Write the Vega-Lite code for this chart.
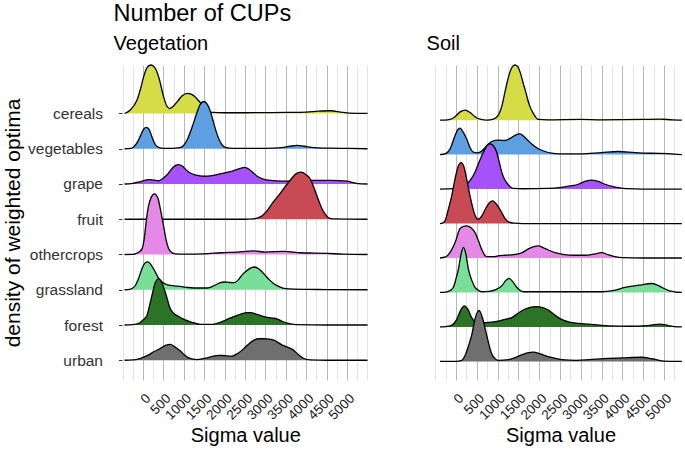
{
"$schema": "https://vega.github.io/schema/vega-lite/v6.json",
"background": "white",
"padding": {"left": 2, "top": 2, "right": 0, "bottom": 0},
"bounds": "flush",
"spacing": 66,
"title": {"text": "Number of CUPs", "anchor": "start", "frame": "group", "fontSize": 23.5, "fontWeight": "normal", "color": "#000", "dx": -8.4, "offset": 8},
"config": {"font": "Liberation Sans", "view": {"stroke": null}, "title": {"fontWeight": "normal", "color": "#000"}},
"datasets": {
"veg": [
{"c":"cereals","v":-452,"d":0},{"c":"cereals","v":-312,"d":0.1},{"c":"cereals","v":-147,"d":0.38},{"c":"cereals","v":-60,"d":0.7},{"c":"cereals","v":15,"d":1.04},{"c":"cereals","v":110,"d":1.32},{"c":"cereals","v":197,"d":1.375},{"c":"cereals","v":290,"d":1.3},{"c":"cereals","v":383,"d":1.04},{"c":"cereals","v":506,"d":0.47},{"c":"cereals","v":580,"d":0.22},{"c":"cereals","v":654,"d":0.14},{"c":"cereals","v":740,"d":0.2},{"c":"cereals","v":835,"d":0.33},{"c":"cereals","v":960,"d":0.5},{"c":"cereals","v":1081,"d":0.57},{"c":"cereals","v":1180,"d":0.55},{"c":"cereals","v":1260,"d":0.49},{"c":"cereals","v":1408,"d":0.3},{"c":"cereals","v":1550,"d":0.1},{"c":"cereals","v":1700,"d":0.03},{"c":"cereals","v":2000,"d":0.02},{"c":"cereals","v":2500,"d":0.02},{"c":"cereals","v":3000,"d":0.025},{"c":"cereals","v":3500,"d":0.03},{"c":"cereals","v":4000,"d":0.04},{"c":"cereals","v":4300,"d":0.065},{"c":"cereals","v":4600,"d":0.077},{"c":"cereals","v":4850,"d":0.04},{"c":"cereals","v":5050,"d":0.01},{"c":"cereals","v":5504,"d":0},
{"c":"vegetables","v":-452,"d":0},{"c":"vegetables","v":-300,"d":0.01},{"c":"vegetables","v":-231,"d":0.05},{"c":"vegetables","v":-130,"d":0.2},{"c":"vegetables","v":-50,"d":0.4},{"c":"vegetables","v":20,"d":0.56},{"c":"vegetables","v":81,"d":0.605},{"c":"vegetables","v":150,"d":0.55},{"c":"vegetables","v":220,"d":0.33},{"c":"vegetables","v":300,"d":0.12},{"c":"vegetables","v":383,"d":0.04},{"c":"vegetables","v":500,"d":0.01},{"c":"vegetables","v":700,"d":0.01},{"c":"vegetables","v":900,"d":0.03},{"c":"vegetables","v":1000,"d":0.1},{"c":"vegetables","v":1100,"d":0.3},{"c":"vegetables","v":1200,"d":0.6},{"c":"vegetables","v":1300,"d":0.95},{"c":"vegetables","v":1400,"d":1.25},{"c":"vegetables","v":1489,"d":1.34},{"c":"vegetables","v":1580,"d":1.25},{"c":"vegetables","v":1654,"d":1.05},{"c":"vegetables","v":1740,"d":0.7},{"c":"vegetables","v":1818,"d":0.4},{"c":"vegetables","v":1920,"d":0.14},{"c":"vegetables","v":2022,"d":0.04},{"c":"vegetables","v":2200,"d":0.01},{"c":"vegetables","v":3000,"d":0.01},{"c":"vegetables","v":3400,"d":0.03},{"c":"vegetables","v":3600,"d":0.07},{"c":"vegetables","v":3784,"d":0.094},{"c":"vegetables","v":3950,"d":0.07},{"c":"vegetables","v":4200,"d":0.03},{"c":"vegetables","v":4600,"d":0.015},{"c":"vegetables","v":5000,"d":0.01},{"c":"vegetables","v":5504,"d":0},
{"c":"grape","v":-452,"d":0},{"c":"grape","v":-250,"d":0.02},{"c":"grape","v":-50,"d":0.07},{"c":"grape","v":138,"d":0.125},{"c":"grape","v":260,"d":0.11},{"c":"grape","v":383,"d":0.09},{"c":"grape","v":480,"d":0.15},{"c":"grape","v":590,"d":0.26},{"c":"grape","v":700,"d":0.42},{"c":"grape","v":800,"d":0.53},{"c":"grape","v":875,"d":0.55},{"c":"grape","v":960,"d":0.51},{"c":"grape","v":1060,"d":0.4},{"c":"grape","v":1162,"d":0.31},{"c":"grape","v":1300,"d":0.25},{"c":"grape","v":1489,"d":0.22},{"c":"grape","v":1700,"d":0.24},{"c":"grape","v":1980,"d":0.31},{"c":"grape","v":2226,"d":0.38},{"c":"grape","v":2380,"d":0.44},{"c":"grape","v":2489,"d":0.47},{"c":"grape","v":2600,"d":0.42},{"c":"grape","v":2700,"d":0.32},{"c":"grape","v":2801,"d":0.22},{"c":"grape","v":2950,"d":0.14},{"c":"grape","v":3128,"d":0.1},{"c":"grape","v":3400,"d":0.08},{"c":"grape","v":3800,"d":0.09},{"c":"grape","v":4152,"d":0.1},{"c":"grape","v":4600,"d":0.1},{"c":"grape","v":5012,"d":0.08},{"c":"grape","v":5150,"d":0.04},{"c":"grape","v":5258,"d":0.01},{"c":"grape","v":5504,"d":0},
{"c":"fruit","v":-452,"d":0},{"c":"fruit","v":2500,"d":0},{"c":"fruit","v":2700,"d":0.01},{"c":"fruit","v":2900,"d":0.08},{"c":"fruit","v":3047,"d":0.25},{"c":"fruit","v":3200,"d":0.5},{"c":"fruit","v":3374,"d":0.75},{"c":"fruit","v":3500,"d":0.95},{"c":"fruit","v":3619,"d":1.12},{"c":"fruit","v":3740,"d":1.28},{"c":"fruit","v":3865,"d":1.335},{"c":"fruit","v":3990,"d":1.27},{"c":"fruit","v":4110,"d":1.12},{"c":"fruit","v":4220,"d":0.8},{"c":"fruit","v":4315,"d":0.5},{"c":"fruit","v":4400,"d":0.27},{"c":"fruit","v":4480,"d":0.125},{"c":"fruit","v":4550,"d":0.04},{"c":"fruit","v":4650,"d":0.01},{"c":"fruit","v":5504,"d":0},
{"c":"othercrops","v":-452,"d":0},{"c":"othercrops","v":-250,"d":0.005},{"c":"othercrops","v":-189,"d":0.02},{"c":"othercrops","v":-100,"d":0.07},{"c":"othercrops","v":-25,"d":0.16},{"c":"othercrops","v":30,"d":0.45},{"c":"othercrops","v":74,"d":0.9},{"c":"othercrops","v":130,"d":1.35},{"c":"othercrops","v":200,"d":1.62},{"c":"othercrops","v":280,"d":1.72},{"c":"othercrops","v":370,"d":1.58},{"c":"othercrops","v":440,"d":1.2},{"c":"othercrops","v":491,"d":0.9},{"c":"othercrops","v":560,"d":0.45},{"c":"othercrops","v":630,"d":0.16},{"c":"othercrops","v":700,"d":0.06},{"c":"othercrops","v":800,"d":0.02},{"c":"othercrops","v":1000,"d":0.01},{"c":"othercrops","v":1500,"d":0.02},{"c":"othercrops","v":1900,"d":0.05},{"c":"othercrops","v":2300,"d":0.07},{"c":"othercrops","v":2719,"d":0.1},{"c":"othercrops","v":3000,"d":0.07},{"c":"othercrops","v":3455,"d":0.09},{"c":"othercrops","v":3865,"d":0.05},{"c":"othercrops","v":4200,"d":0.04},{"c":"othercrops","v":4520,"d":0.03},{"c":"othercrops","v":4900,"d":0.01},{"c":"othercrops","v":5504,"d":0},
{"c":"grassland","v":-452,"d":0},{"c":"grassland","v":-300,"d":0.02},{"c":"grassland","v":-189,"d":0.12},{"c":"grassland","v":-100,"d":0.35},{"c":"grassland","v":-25,"d":0.6},{"c":"grassland","v":50,"d":0.76},{"c":"grassland","v":123,"d":0.79},{"c":"grassland","v":200,"d":0.7},{"c":"grassland","v":302,"d":0.5},{"c":"grassland","v":380,"d":0.33},{"c":"grassland","v":467,"d":0.22},{"c":"grassland","v":600,"d":0.14},{"c":"grassland","v":835,"d":0.1},{"c":"grassland","v":1050,"d":0.07},{"c":"grassland","v":1244,"d":0.05},{"c":"grassland","v":1572,"d":0.05},{"c":"grassland","v":1750,"d":0.12},{"c":"grassland","v":1900,"d":0.2},{"c":"grassland","v":1980,"d":0.22},{"c":"grassland","v":2100,"d":0.21},{"c":"grassland","v":2226,"d":0.2},{"c":"grassland","v":2350,"d":0.3},{"c":"grassland","v":2450,"d":0.45},{"c":"grassland","v":2555,"d":0.55},{"c":"grassland","v":2650,"d":0.62},{"c":"grassland","v":2735,"d":0.645},{"c":"grassland","v":2850,"d":0.58},{"c":"grassland","v":2963,"d":0.45},{"c":"grassland","v":3100,"d":0.28},{"c":"grassland","v":3209,"d":0.17},{"c":"grassland","v":3350,"d":0.08},{"c":"grassland","v":3496,"d":0.03},{"c":"grassland","v":3700,"d":0.015},{"c":"grassland","v":4029,"d":0.01},{"c":"grassland","v":4500,"d":0.005},{"c":"grassland","v":5504,"d":0},
{"c":"forest","v":-452,"d":0},{"c":"forest","v":-250,"d":0.01},{"c":"forest","v":-100,"d":0.05},{"c":"forest","v":0,"d":0.14},{"c":"forest","v":98,"d":0.28},{"c":"forest","v":160,"d":0.55},{"c":"forest","v":221,"d":0.85},{"c":"forest","v":300,"d":1.2},{"c":"forest","v":383,"d":1.31},{"c":"forest","v":470,"d":1.18},{"c":"forest","v":530,"d":0.98},{"c":"forest","v":590,"d":0.76},{"c":"forest","v":650,"d":0.52},{"c":"forest","v":712,"d":0.38},{"c":"forest","v":875,"d":0.24},{"c":"forest","v":1000,"d":0.16},{"c":"forest","v":1162,"d":0.09},{"c":"forest","v":1408,"d":0.02},{"c":"forest","v":1700,"d":0.02},{"c":"forest","v":1950,"d":0.1},{"c":"forest","v":2100,"d":0.18},{"c":"forest","v":2226,"d":0.24},{"c":"forest","v":2400,"d":0.31},{"c":"forest","v":2550,"d":0.35},{"c":"forest","v":2636,"d":0.35},{"c":"forest","v":2800,"d":0.3},{"c":"forest","v":2963,"d":0.24},{"c":"forest","v":3150,"d":0.2},{"c":"forest","v":3292,"d":0.17},{"c":"forest","v":3420,"d":0.1},{"c":"forest","v":3538,"d":0.05},{"c":"forest","v":3750,"d":0.01},{"c":"forest","v":4500,"d":0},{"c":"forest","v":5504,"d":0},
{"c":"urban","v":-452,"d":0},{"c":"urban","v":-250,"d":0.01},{"c":"urban","v":-100,"d":0.04},{"c":"urban","v":15,"d":0.09},{"c":"urban","v":150,"d":0.16},{"c":"urban","v":260,"d":0.24},{"c":"urban","v":400,"d":0.32},{"c":"urban","v":550,"d":0.42},{"c":"urban","v":671,"d":0.45},{"c":"urban","v":780,"d":0.38},{"c":"urban","v":917,"d":0.26},{"c":"urban","v":1020,"d":0.15},{"c":"urban","v":1121,"d":0.07},{"c":"urban","v":1327,"d":0.02},{"c":"urban","v":1572,"d":0.07},{"c":"urban","v":1700,"d":0.11},{"c":"urban","v":1858,"d":0.14},{"c":"urban","v":2000,"d":0.13},{"c":"urban","v":2187,"d":0.12},{"c":"urban","v":2330,"d":0.2},{"c":"urban","v":2472,"d":0.33},{"c":"urban","v":2600,"d":0.47},{"c":"urban","v":2718,"d":0.57},{"c":"urban","v":2840,"d":0.61},{"c":"urban","v":2963,"d":0.61},{"c":"urban","v":3090,"d":0.6},{"c":"urban","v":3209,"d":0.57},{"c":"urban","v":3415,"d":0.43},{"c":"urban","v":3540,"d":0.37},{"c":"urban","v":3661,"d":0.31},{"c":"urban","v":3800,"d":0.17},{"c":"urban","v":3946,"d":0.05},{"c":"urban","v":4100,"d":0.01},{"c":"urban","v":4500,"d":0},{"c":"urban","v":5504,"d":0}
],
"soil": [
{"c":"cereals","v":-385,"d":0},{"c":"cereals","v":-200,"d":0.01},{"c":"cereals","v":-100,"d":0.04},{"c":"cereals","v":-24,"d":0.1},{"c":"cereals","v":100,"d":0.24},{"c":"cereals","v":217,"d":0.29},{"c":"cereals","v":340,"d":0.22},{"c":"cereals","v":457,"d":0.1},{"c":"cereals","v":600,"d":0.02},{"c":"cereals","v":738,"d":0},{"c":"cereals","v":900,"d":0.03},{"c":"cereals","v":1019,"d":0.145},{"c":"cereals","v":1100,"d":0.4},{"c":"cereals","v":1178,"d":0.82},{"c":"cereals","v":1240,"d":1.15},{"c":"cereals","v":1298,"d":1.4},{"c":"cereals","v":1360,"d":1.56},{"c":"cereals","v":1418,"d":1.6},{"c":"cereals","v":1480,"d":1.56},{"c":"cereals","v":1539,"d":1.4},{"c":"cereals","v":1610,"d":1.1},{"c":"cereals","v":1676,"d":0.82},{"c":"cereals","v":1760,"d":0.45},{"c":"cereals","v":1861,"d":0.19},{"c":"cereals","v":1981,"d":0.02},{"c":"cereals","v":2200,"d":0.01},{"c":"cereals","v":3000,"d":0.02},{"c":"cereals","v":3500,"d":0.01},{"c":"cereals","v":4500,"d":0.02},{"c":"cereals","v":4904,"d":0.03},{"c":"cereals","v":5200,"d":0.01},{"c":"cereals","v":5430,"d":0},
{"c":"vegetables","v":-385,"d":0},{"c":"vegetables","v":-250,"d":0.03},{"c":"vegetables","v":-144,"d":0.16},{"c":"vegetables","v":-24,"d":0.55},{"c":"vegetables","v":40,"d":0.72},{"c":"vegetables","v":96,"d":0.765},{"c":"vegetables","v":170,"d":0.66},{"c":"vegetables","v":257,"d":0.45},{"c":"vegetables","v":340,"d":0.2},{"c":"vegetables","v":418,"d":0.07},{"c":"vegetables","v":500,"d":0.05},{"c":"vegetables","v":577,"d":0.07},{"c":"vegetables","v":680,"d":0.18},{"c":"vegetables","v":779,"d":0.31},{"c":"vegetables","v":938,"d":0.41},{"c":"vegetables","v":1050,"d":0.42},{"c":"vegetables","v":1178,"d":0.41},{"c":"vegetables","v":1300,"d":0.47},{"c":"vegetables","v":1420,"d":0.56},{"c":"vegetables","v":1539,"d":0.6},{"c":"vegetables","v":1680,"d":0.47},{"c":"vegetables","v":1820,"d":0.31},{"c":"vegetables","v":1980,"d":0.17},{"c":"vegetables","v":2140,"d":0.09},{"c":"vegetables","v":2300,"d":0.04},{"c":"vegetables","v":2462,"d":0.02},{"c":"vegetables","v":3000,"d":0.02},{"c":"vegetables","v":3500,"d":0.06},{"c":"vegetables","v":3904,"d":0.09},{"c":"vegetables","v":4300,"d":0.06},{"c":"vegetables","v":4700,"d":0.04},{"c":"vegetables","v":5100,"d":0.03},{"c":"vegetables","v":5430,"d":0},
{"c":"grape","v":-385,"d":0},{"c":"grape","v":-200,"d":0.005},{"c":"grape","v":0,"d":0.02},{"c":"grape","v":100,"d":0.05},{"c":"grape","v":217,"d":0.1},{"c":"grape","v":340,"d":0.25},{"c":"grape","v":457,"d":0.49},{"c":"grape","v":560,"d":0.8},{"c":"grape","v":659,"d":1.07},{"c":"grape","v":740,"d":1.25},{"c":"grape","v":818,"d":1.31},{"c":"grape","v":900,"d":1.25},{"c":"grape","v":979,"d":1.07},{"c":"grape","v":1040,"d":0.78},{"c":"grape","v":1099,"d":0.49},{"c":"grape","v":1160,"d":0.3},{"c":"grape","v":1219,"d":0.19},{"c":"grape","v":1300,"d":0.07},{"c":"grape","v":1380,"d":0.02},{"c":"grape","v":1600,"d":0.01},{"c":"grape","v":2200,"d":0.02},{"c":"grape","v":2541,"d":0.05},{"c":"grape","v":2750,"d":0.09},{"c":"grape","v":2943,"d":0.14},{"c":"grape","v":3100,"d":0.22},{"c":"grape","v":3262,"d":0.26},{"c":"grape","v":3420,"d":0.22},{"c":"grape","v":3582,"d":0.14},{"c":"grape","v":3750,"d":0.08},{"c":"grape","v":3904,"d":0.04},{"c":"grape","v":4100,"d":0.01},{"c":"grape","v":4500,"d":0},{"c":"grape","v":5430,"d":0},
{"c":"fruit","v":-385,"d":0},{"c":"fruit","v":-330,"d":0.01},{"c":"fruit","v":-264,"d":0.08},{"c":"fruit","v":-183,"d":0.42},{"c":"fruit","v":-103,"d":0.8},{"c":"fruit","v":-24,"d":1.29},{"c":"fruit","v":50,"d":1.65},{"c":"fruit","v":120,"d":1.77},{"c":"fruit","v":190,"d":1.65},{"c":"fruit","v":257,"d":1.29},{"c":"fruit","v":337,"d":0.8},{"c":"fruit","v":420,"d":0.38},{"c":"fruit","v":480,"d":0.18},{"c":"fruit","v":538,"d":0.125},{"c":"fruit","v":620,"d":0.22},{"c":"fruit","v":720,"d":0.45},{"c":"fruit","v":800,"d":0.6},{"c":"fruit","v":882,"d":0.66},{"c":"fruit","v":960,"d":0.58},{"c":"fruit","v":1099,"d":0.32},{"c":"fruit","v":1180,"d":0.14},{"c":"fruit","v":1260,"d":0.05},{"c":"fruit","v":1400,"d":0.01},{"c":"fruit","v":1600,"d":0},{"c":"fruit","v":5430,"d":0},
{"c":"othercrops","v":-385,"d":0},{"c":"othercrops","v":-250,"d":0.03},{"c":"othercrops","v":-150,"d":0.15},{"c":"othercrops","v":-24,"d":0.44},{"c":"othercrops","v":96,"d":0.85},{"c":"othercrops","v":180,"d":0.92},{"c":"othercrops","v":257,"d":0.93},{"c":"othercrops","v":360,"d":0.88},{"c":"othercrops","v":457,"d":0.74},{"c":"othercrops","v":540,"d":0.5},{"c":"othercrops","v":618,"d":0.25},{"c":"othercrops","v":680,"d":0.1},{"c":"othercrops","v":738,"d":0.04},{"c":"othercrops","v":900,"d":0.04},{"c":"othercrops","v":1050,"d":0.07},{"c":"othercrops","v":1178,"d":0.08},{"c":"othercrops","v":1400,"d":0.1},{"c":"othercrops","v":1579,"d":0.15},{"c":"othercrops","v":1750,"d":0.27},{"c":"othercrops","v":1870,"d":0.33},{"c":"othercrops","v":1981,"d":0.35},{"c":"othercrops","v":2150,"d":0.27},{"c":"othercrops","v":2380,"d":0.155},{"c":"othercrops","v":2600,"d":0.1},{"c":"othercrops","v":2861,"d":0.08},{"c":"othercrops","v":3100,"d":0.08},{"c":"othercrops","v":3300,"d":0.11},{"c":"othercrops","v":3503,"d":0.155},{"c":"othercrops","v":3650,"d":0.1},{"c":"othercrops","v":3822,"d":0.04},{"c":"othercrops","v":4000,"d":0.01},{"c":"othercrops","v":4500,"d":0},{"c":"othercrops","v":5430,"d":0},
{"c":"grassland","v":-385,"d":0},{"c":"grassland","v":-250,"d":0.01},{"c":"grassland","v":-150,"d":0.05},{"c":"grassland","v":-63,"d":0.15},{"c":"grassland","v":0,"d":0.4},{"c":"grassland","v":58,"d":0.68},{"c":"grassland","v":120,"d":1.1},{"c":"grassland","v":178,"d":1.31},{"c":"grassland","v":240,"d":1.1},{"c":"grassland","v":298,"d":0.68},{"c":"grassland","v":380,"d":0.35},{"c":"grassland","v":457,"d":0.15},{"c":"grassland","v":540,"d":0.06},{"c":"grassland","v":618,"d":0.02},{"c":"grassland","v":800,"d":0.03},{"c":"grassland","v":950,"d":0.08},{"c":"grassland","v":1099,"d":0.19},{"c":"grassland","v":1200,"d":0.35},{"c":"grassland","v":1275,"d":0.41},{"c":"grassland","v":1360,"d":0.32},{"c":"grassland","v":1459,"d":0.15},{"c":"grassland","v":1540,"d":0.06},{"c":"grassland","v":1620,"d":0.02},{"c":"grassland","v":2000,"d":0.02},{"c":"grassland","v":2500,"d":0.02},{"c":"grassland","v":3000,"d":0.02},{"c":"grassland","v":3500,"d":0.02},{"c":"grassland","v":3800,"d":0.06},{"c":"grassland","v":4063,"d":0.15},{"c":"grassland","v":4400,"d":0.21},{"c":"grassland","v":4705,"d":0.26},{"c":"grassland","v":4830,"d":0.22},{"c":"grassland","v":4945,"d":0.15},{"c":"grassland","v":5100,"d":0.06},{"c":"grassland","v":5250,"d":0.02},{"c":"grassland","v":5430,"d":0},
{"c":"forest","v":-385,"d":0},{"c":"forest","v":-250,"d":0.01},{"c":"forest","v":-144,"d":0.03},{"c":"forest","v":-50,"d":0.1},{"c":"forest","v":17,"d":0.22},{"c":"forest","v":110,"d":0.48},{"c":"forest","v":201,"d":0.61},{"c":"forest","v":290,"d":0.5},{"c":"forest","v":377,"d":0.27},{"c":"forest","v":460,"d":0.15},{"c":"forest","v":600,"d":0.12},{"c":"forest","v":800,"d":0.13},{"c":"forest","v":1019,"d":0.17},{"c":"forest","v":1180,"d":0.22},{"c":"forest","v":1339,"d":0.27},{"c":"forest","v":1460,"d":0.37},{"c":"forest","v":1579,"d":0.47},{"c":"forest","v":1760,"d":0.56},{"c":"forest","v":1940,"d":0.59},{"c":"forest","v":2080,"d":0.56},{"c":"forest","v":2221,"d":0.49},{"c":"forest","v":2340,"d":0.38},{"c":"forest","v":2462,"d":0.27},{"c":"forest","v":2580,"d":0.2},{"c":"forest","v":2702,"d":0.15},{"c":"forest","v":2950,"d":0.1},{"c":"forest","v":3183,"d":0.08},{"c":"forest","v":3450,"d":0.05},{"c":"forest","v":3664,"d":0.03},{"c":"forest","v":4200,"d":0.02},{"c":"forest","v":4600,"d":0.04},{"c":"forest","v":4904,"d":0.08},{"c":"forest","v":5100,"d":0.04},{"c":"forest","v":5250,"d":0.01},{"c":"forest","v":5430,"d":0},
{"c":"urban","v":-385,"d":0},{"c":"urban","v":0,"d":0},{"c":"urban","v":137,"d":0.03},{"c":"urban","v":217,"d":0.17},{"c":"urban","v":300,"d":0.45},{"c":"urban","v":377,"d":0.76},{"c":"urban","v":460,"d":1.25},{"c":"urban","v":553,"d":1.48},{"c":"urban","v":640,"d":1.25},{"c":"urban","v":738,"d":0.76},{"c":"urban","v":800,"d":0.45},{"c":"urban","v":858,"d":0.22},{"c":"urban","v":940,"d":0.08},{"c":"urban","v":1019,"d":0.03},{"c":"urban","v":1260,"d":0.05},{"c":"urban","v":1420,"d":0.11},{"c":"urban","v":1579,"d":0.19},{"c":"urban","v":1720,"d":0.25},{"c":"urban","v":1861,"d":0.27},{"c":"urban","v":2000,"d":0.23},{"c":"urban","v":2140,"d":0.17},{"c":"urban","v":2350,"d":0.1},{"c":"urban","v":2541,"d":0.05},{"c":"urban","v":2900,"d":0.03},{"c":"urban","v":3200,"d":0.05},{"c":"urban","v":3543,"d":0.08},{"c":"urban","v":4000,"d":0.1},{"c":"urban","v":4464,"d":0.12},{"c":"urban","v":4650,"d":0.09},{"c":"urban","v":4784,"d":0.06},{"c":"urban","v":5000,"d":0.01},{"c":"urban","v":5430,"d":0}
]
},
"hconcat": [
{
"width": 246.6, "height": 315,
"title": {"text": "Vegetation", "anchor": "start", "frame": "group", "fontSize": 20, "dx": -8.4, "offset": 8.5},
"data": {"name": "veg"},
"transform": [
{"calculate": "indexof(['urban','forest','grassland','othercrops','fruit','grape','vegetables','cereals'], datum.c)", "as": "base"},
{"calculate": "datum.base + datum.d", "as": "top"}
],
"encoding": {
"x": {"field": "v", "type": "quantitative", "scale": {"domain": [-515, 5530], "nice": false, "zero": false},
 "axis": {"values": [-500,-250,0,250,500,750,1000,1250,1500,1750,2000,2250,2500,2750,3000,3250,3500,3750,4000,4250,4500,4750,5000,5250,5500], "format": "d",
  "labelExpr": "datum.value % 500 === 0 && datum.value >= 0 && datum.value <= 5000 ? datum.label : ''",
  "labelAngle": -45, "labelAlign": "right", "labelBaseline": "top", "labelOverlap": false, "labelFlush": false, "labelFontSize": 13.5, "labelColor": "#1a1a1a", "labelPadding": 11,
  "ticks": false, "domain": false, "grid": true, "gridWidth": 1,
  "gridColor": {"condition": {"test": "datum.value % 500 === 0 && datum.value >= 0 && datum.value <= 5000", "value": "#b8b8b8"}, "value": "#e4e4e4"},
  "title": "Sigma value", "titleFontSize": 20, "titleFontWeight": "normal", "titleColor": "#000", "titlePadding": 4}},
"y": {"field": "top", "type": "quantitative", "scale": {"domain": [-0.56, 8.375], "nice": false, "zero": false},
 "axis": {"values": [0,1,2,3,4,5,6,7], "labelExpr": "['urban','forest','grassland','othercrops','fruit','grape','vegetables','cereals'][datum.value]",
  "labelFontSize": 15.5, "labelColor": "#333", "labelPadding": 16, "ticks": true, "tickSize": 3.5, "tickColor": "#333", "domain": false, "grid": false,
  "title": "density of weighted optima", "titleFontSize": 21, "titleFontWeight": "normal", "titleColor": "#000", "titlePadding": 4}}
},
"layer": [
{"transform": [{"filter": "datum.c === 'cereals'"}], "mark": {"type": "area", "interpolate": "monotone", "color": "#d4dd45", "opacity": 1}, "encoding": {"y2": {"field": "base"}}},
{"transform": [{"filter": "datum.c === 'cereals'"}], "mark": {"type": "line", "interpolate": "monotone", "color": "#000", "strokeWidth": 1.3}},
{"transform": [{"filter": "datum.c === 'vegetables'"}], "mark": {"type": "area", "interpolate": "monotone", "color": "#5e9fe2", "opacity": 1}, "encoding": {"y2": {"field": "base"}}},
{"transform": [{"filter": "datum.c === 'vegetables'"}], "mark": {"type": "line", "interpolate": "monotone", "color": "#000", "strokeWidth": 1.3}},
{"transform": [{"filter": "datum.c === 'grape'"}], "mark": {"type": "area", "interpolate": "monotone", "color": "#a652f8", "opacity": 1}, "encoding": {"y2": {"field": "base"}}},
{"transform": [{"filter": "datum.c === 'grape'"}], "mark": {"type": "line", "interpolate": "monotone", "color": "#000", "strokeWidth": 1.3}},
{"transform": [{"filter": "datum.c === 'fruit'"}], "mark": {"type": "area", "interpolate": "monotone", "color": "#c84a54", "opacity": 1}, "encoding": {"y2": {"field": "base"}}},
{"transform": [{"filter": "datum.c === 'fruit'"}], "mark": {"type": "line", "interpolate": "monotone", "color": "#000", "strokeWidth": 1.3}},
{"transform": [{"filter": "datum.c === 'othercrops'"}], "mark": {"type": "area", "interpolate": "monotone", "color": "#e589e6", "opacity": 1}, "encoding": {"y2": {"field": "base"}}},
{"transform": [{"filter": "datum.c === 'othercrops'"}], "mark": {"type": "line", "interpolate": "monotone", "color": "#000", "strokeWidth": 1.3}},
{"transform": [{"filter": "datum.c === 'grassland'"}], "mark": {"type": "area", "interpolate": "monotone", "color": "#78de98", "opacity": 1}, "encoding": {"y2": {"field": "base"}}},
{"transform": [{"filter": "datum.c === 'grassland'"}], "mark": {"type": "line", "interpolate": "monotone", "color": "#000", "strokeWidth": 1.3}},
{"transform": [{"filter": "datum.c === 'forest'"}], "mark": {"type": "area", "interpolate": "monotone", "color": "#2b7327", "opacity": 1}, "encoding": {"y2": {"field": "base"}}},
{"transform": [{"filter": "datum.c === 'forest'"}], "mark": {"type": "line", "interpolate": "monotone", "color": "#000", "strokeWidth": 1.3}},
{"transform": [{"filter": "datum.c === 'urban'"}], "mark": {"type": "area", "interpolate": "monotone", "color": "#6f6f6f", "opacity": 1}, "encoding": {"y2": {"field": "base"}}},
{"transform": [{"filter": "datum.c === 'urban'"}], "mark": {"type": "line", "interpolate": "monotone", "color": "#000", "strokeWidth": 1.3}}
]
},
{
"width": 251, "height": 315,
"title": {"text": "Soil", "anchor": "start", "frame": "group", "fontSize": 20, "dx": -8.4, "offset": 8.5},
"data": {"name": "soil"},
"transform": [
{"calculate": "indexof(['urban','forest','grassland','othercrops','fruit','grape','vegetables','cereals'], datum.c)", "as": "base"},
{"calculate": "datum.base + datum.d", "as": "top"}
],
"encoding": {
"x": {"field": "v", "type": "quantitative", "scale": {"domain": [-505, 5530], "nice": false, "zero": false},
 "axis": {"values": [-500,-250,0,250,500,750,1000,1250,1500,1750,2000,2250,2500,2750,3000,3250,3500,3750,4000,4250,4500,4750,5000,5250,5500], "format": "d",
  "labelExpr": "datum.value % 500 === 0 && datum.value >= 0 && datum.value <= 5000 ? datum.label : ''",
  "labelAngle": -45, "labelAlign": "right", "labelBaseline": "top", "labelOverlap": false, "labelFlush": false, "labelFontSize": 13.5, "labelColor": "#1a1a1a", "labelPadding": 11,
  "ticks": false, "domain": false, "grid": true, "gridWidth": 1,
  "gridColor": {"condition": {"test": "datum.value % 500 === 0 && datum.value >= 0 && datum.value <= 5000", "value": "#b8b8b8"}, "value": "#e4e4e4"},
  "title": "Sigma value", "titleFontSize": 20, "titleFontWeight": "normal", "titleColor": "#000", "titlePadding": 4}},
"y": {"field": "top", "type": "quantitative", "scale": {"domain": [-0.54, 8.6], "nice": false, "zero": false}, "axis": null}
},
"layer": [
{"transform": [{"filter": "datum.c === 'cereals'"}], "mark": {"type": "area", "interpolate": "monotone", "color": "#d4dd45", "opacity": 1}, "encoding": {"y2": {"field": "base"}}},
{"transform": [{"filter": "datum.c === 'cereals'"}], "mark": {"type": "line", "interpolate": "monotone", "color": "#000", "strokeWidth": 1.3}},
{"transform": [{"filter": "datum.c === 'vegetables'"}], "mark": {"type": "area", "interpolate": "monotone", "color": "#5e9fe2", "opacity": 1}, "encoding": {"y2": {"field": "base"}}},
{"transform": [{"filter": "datum.c === 'vegetables'"}], "mark": {"type": "line", "interpolate": "monotone", "color": "#000", "strokeWidth": 1.3}},
{"transform": [{"filter": "datum.c === 'grape'"}], "mark": {"type": "area", "interpolate": "monotone", "color": "#a652f8", "opacity": 1}, "encoding": {"y2": {"field": "base"}}},
{"transform": [{"filter": "datum.c === 'grape'"}], "mark": {"type": "line", "interpolate": "monotone", "color": "#000", "strokeWidth": 1.3}},
{"transform": [{"filter": "datum.c === 'fruit'"}], "mark": {"type": "area", "interpolate": "monotone", "color": "#c84a54", "opacity": 1}, "encoding": {"y2": {"field": "base"}}},
{"transform": [{"filter": "datum.c === 'fruit'"}], "mark": {"type": "line", "interpolate": "monotone", "color": "#000", "strokeWidth": 1.3}},
{"transform": [{"filter": "datum.c === 'othercrops'"}], "mark": {"type": "area", "interpolate": "monotone", "color": "#e589e6", "opacity": 1}, "encoding": {"y2": {"field": "base"}}},
{"transform": [{"filter": "datum.c === 'othercrops'"}], "mark": {"type": "line", "interpolate": "monotone", "color": "#000", "strokeWidth": 1.3}},
{"transform": [{"filter": "datum.c === 'grassland'"}], "mark": {"type": "area", "interpolate": "monotone", "color": "#78de98", "opacity": 1}, "encoding": {"y2": {"field": "base"}}},
{"transform": [{"filter": "datum.c === 'grassland'"}], "mark": {"type": "line", "interpolate": "monotone", "color": "#000", "strokeWidth": 1.3}},
{"transform": [{"filter": "datum.c === 'forest'"}], "mark": {"type": "area", "interpolate": "monotone", "color": "#2b7327", "opacity": 1}, "encoding": {"y2": {"field": "base"}}},
{"transform": [{"filter": "datum.c === 'forest'"}], "mark": {"type": "line", "interpolate": "monotone", "color": "#000", "strokeWidth": 1.3}},
{"transform": [{"filter": "datum.c === 'urban'"}], "mark": {"type": "area", "interpolate": "monotone", "color": "#6f6f6f", "opacity": 1}, "encoding": {"y2": {"field": "base"}}},
{"transform": [{"filter": "datum.c === 'urban'"}], "mark": {"type": "line", "interpolate": "monotone", "color": "#000", "strokeWidth": 1.3}}
]
}
]
}
